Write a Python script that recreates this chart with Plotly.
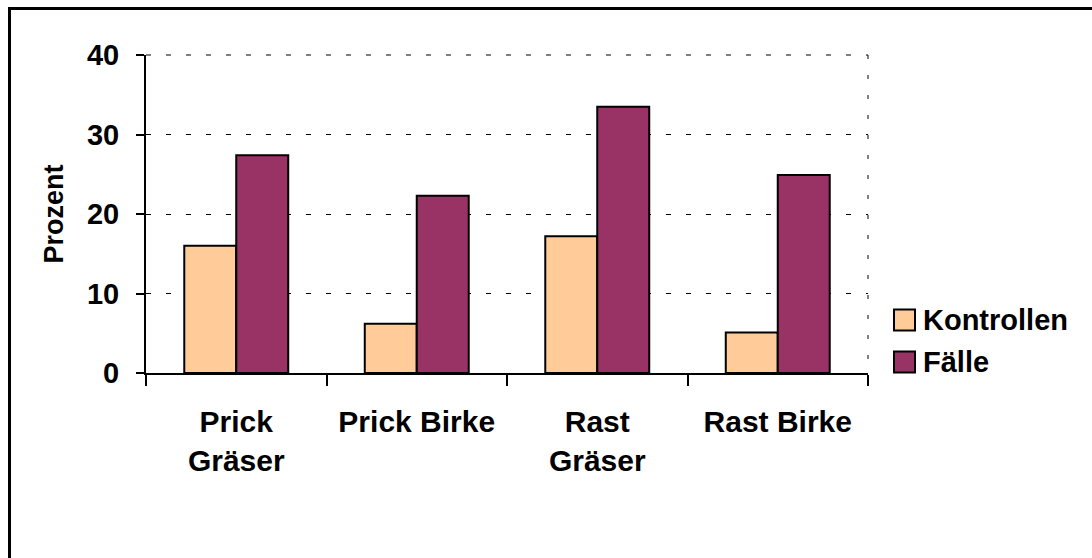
import plotly.graph_objects as go

# Allergietest-Ergebnisse nach Testart und Allergen
categories = ["Prick<br>Gräser", "Prick Birke", "Rast<br>Gräser", "Rast Birke"]
series_names = ["Kontrollen", "Fälle"]
kontrollen = [16.0, 6.2, 17.2, 5.1]
faelle = [27.4, 22.3, 33.5, 24.9]
colors = ["#FFCC99", "#993366"]
y_ticks = [0, 10, 20, 30, 40]

FONT = "Liberation Sans, Arial, sans-serif"

fig = go.Figure()
for name, vals, col in zip(series_names, [kontrollen, faelle], colors):
    fig.add_trace(go.Bar(
        x=categories, y=vals, name=name,
        marker=dict(color=col, line=dict(color="black", width=2)),
        showlegend=False,
    ))

L, R, T, B = 146, 224, 55, 185
W, H = 1092, 558
pw, ph = W - L - R, H - T - B

def px_x(px):
    return (px - L) / pw

def px_y(py):
    return (H - B - py) / ph

DASH = "5px,15px"
shapes = [
    # dashed top and right frame of the plot area
    dict(type="line", xref="paper", yref="paper", x0=0, x1=1, y0=1, y1=1,
         line=dict(color="black", width=1, dash=DASH), layer="below"),
    dict(type="line", xref="paper", yref="paper", x0=1, x1=1, y0=1, y1=0,
         line=dict(color="black", width=1, dash="4px,16px")),
    # outer chart frame
    dict(type="rect", xref="paper", yref="paper",
         x0=px_x(9.5), x1=px_x(W + 50), y0=px_y(H + 50), y1=px_y(8.5),
         line=dict(color="black", width=3), fillcolor="rgba(0,0,0,0)"),
]
annotations = []
# legend entries
legend_rows = [320, 362]
for name, col, cy in zip(series_names, colors, legend_rows):
    shapes.append(dict(type="rect", xref="paper", yref="paper",
                       x0=px_x(894), x1=px_x(915), y0=px_y(cy + 10.5), y1=px_y(cy - 10.5),
                       line=dict(color="black", width=2), fillcolor=col))
    annotations.append(dict(xref="paper", yref="paper", x=px_x(921), y=px_y(cy),
                            xanchor="left", yanchor="middle", showarrow=False,
                            text=f"<b>{name}</b>",
                            font=dict(family=FONT, size=29, color="black")))

fig.update_layout(
    width=W, height=H,
    margin=dict(l=L, r=R, t=T, b=B, pad=0),
    paper_bgcolor="white", plot_bgcolor="white",
    barmode="group", bargap=0.424, bargroupgap=0,
    font=dict(family=FONT, color="black"),
    shapes=shapes, annotations=annotations,
)
fig.update_xaxes(
    type="category", showline=True, linecolor="black", linewidth=2,
    ticks="outside", tickson="boundaries", ticklen=11, tickwidth=2, tickcolor="black",
    tickfont=dict(family=FONT, size=30, color="black", weight="bold"),
    ticklabelstandoff=21, showgrid=False, zeroline=False,
)
fig.update_yaxes(
    range=[0, 40], tickvals=y_ticks, showline=True, linecolor="black", linewidth=2,
    ticks="outside", ticklen=8, tickwidth=2, tickcolor="black",
    tickfont=dict(family=FONT, size=29, color="black", weight="bold"),
    ticklabelstandoff=11,
    showgrid=True, gridcolor="black", gridwidth=1, griddash=DASH,
    zeroline=False,
    title=dict(text="<b>Prozent</b>", font=dict(family=FONT, size=27, color="black"),
               standoff=15),
)

fig.write_html("out.html")
